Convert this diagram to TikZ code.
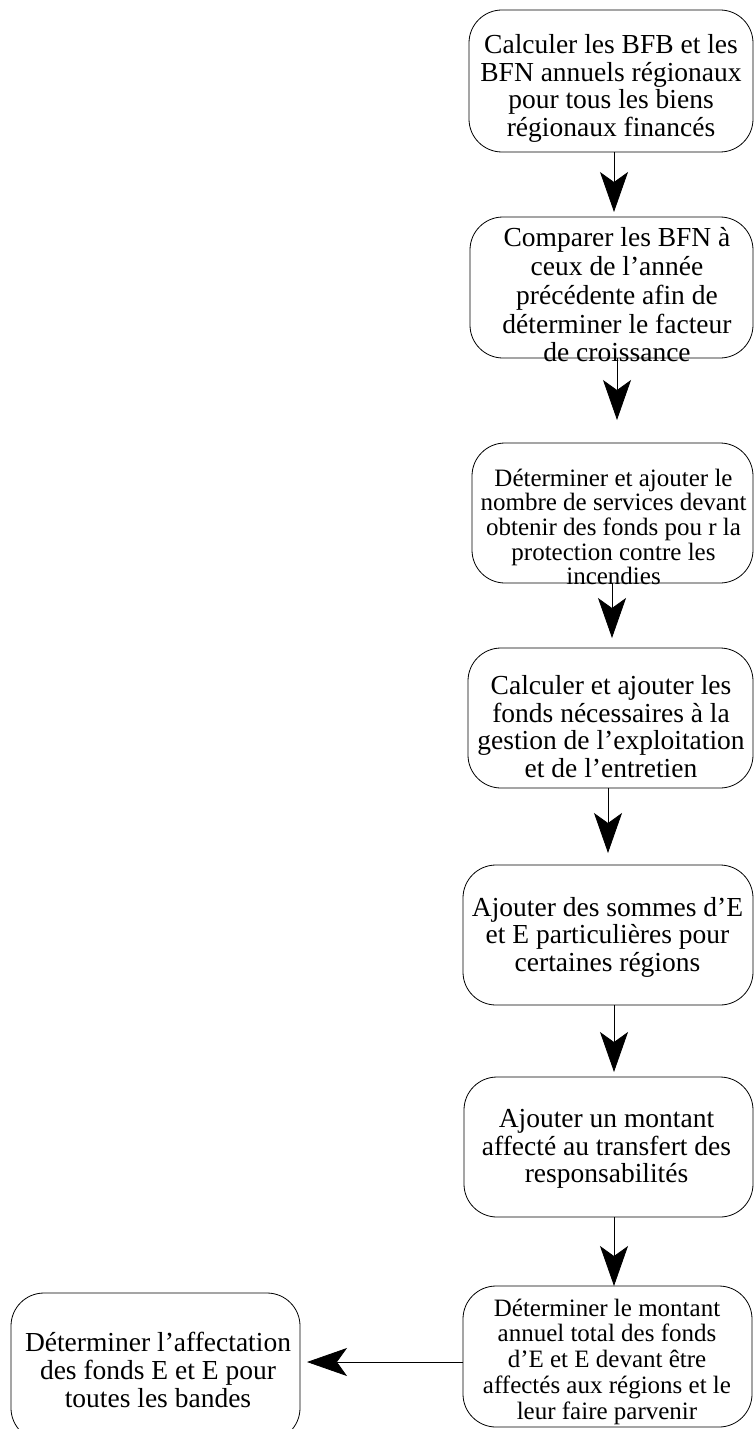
\documentclass[tikz,border=0pt]{standalone}
\usepackage{fontspec}
\setmainfont{Liberation Serif}
\usetikzlibrary{arrows.meta}
\begin{document}
\begin{tikzpicture}[x=1bp,y=-1bp,
  box/.style={draw, line width=0.8bp, rounded corners=33bp, inner sep=0pt, outer sep=0pt},
  txt/.style={align=center, inner sep=0pt, font=\fontsize{27.5bp}{27.5bp}\selectfont},
  arr/.style={line width=0.8bp, -{Stealth[length=40bp,width=28bp,inset=10bp]}}]
\useasboundingbox (0,0) rectangle (754,1429);
\clip (0,0) rectangle (754,1429);

% process boxes
\node[box, minimum width=284bp, minimum height=142bp] (b1) at (611,81) {};
\node[box, minimum width=283bp, minimum height=141bp] (b2) at (611.5,287.5) {};
\node[box, minimum width=281bp, minimum height=140bp] (b3) at (612.5,513) {};
\node[box, minimum width=285bp, minimum height=140bp] (b4) at (610.5,718) {};
\node[box, minimum width=290bp, minimum height=140bp] (b5) at (608,935) {};
\node[box, minimum width=289bp, minimum height=140bp] (b6) at (608.5,1147) {};
\node[box, minimum width=289bp, minimum height=141bp] (b7) at (607.5,1356.5) {};
\node[box, minimum width=289bp, minimum height=148bp] (b8) at (155.5,1367) {};

% box texts
\node[txt] (t1) at (611,88.5) {Calculer les BFB et les\\BFN annuels régionaux\\pour tous les biens\\régionaux financés};
\node[txt, font=\fontsize{27.5bp}{28.75bp}\selectfont] (t2) at (617,295) {Comparer les BFN à\\ceux de l’année\\précédente afin de\\déterminer le facteur\\de croissance};
\node[txt, font=\fontsize{25bp}{24.6bp}\selectfont] (t3) at (613.5,527) {Déterminer et ajouter le\\nombre de services devant\\obtenir des fonds pou r la\\protection contre les\\incendies};
\node[txt] (t4) at (611,726.5) {Calculer et ajouter les\\fonds nécessaires à la\\gestion de l’exploitation\\et de l’entretien};
\node[txt] (t5) at (607.5,937) {Ajouter des sommes d’E\\et E particulières pour\\certaines régions};
\node[txt] (t6) at (606.5,1149) {Ajouter un montant\\affecté au transfert des\\responsabilités};
\node[txt, font=\fontsize{25bp}{25.75bp}\selectfont] (t7) at (607,1361.5) {Déterminer le montant\\annuel total des fonds\\d’E et E devant être\\affectés aux régions et le\\leur faire parvenir};
\node[txt, font=\fontsize{27.5bp}{28.3bp}\selectfont] (t8) at (158,1370) {Déterminer l’affectation\\des fonds E et E pour\\toutes les bandes};

% connector guide lines
\coordinate (c1) at (614,0);
\coordinate (c2) at (617,0);
\coordinate (c3) at (612,0);
\coordinate (c4) at (608,0);
\coordinate (c5) at (614,0);
\coordinate (c6) at (614,0);
\coordinate (c7) at (0,1362);

% connectors
\draw[arr, shorten >=5bp]  (b1.south -| c1) -- (b2.north -| c1);
\draw[arr, shorten >=23bp] (b2.south -| c2) -- (b3.north -| c2);
\draw[arr, shorten >=10bp] (b3.south -| c3) -- (b4.north -| c3);
\draw[arr, shorten >=12bp] (b4.south -| c4) -- (b5.north -| c4);
\draw[arr, shorten >=5bp]  (b5.south -| c5) -- (b6.north -| c5);
\draw[arr]                 (b6.south -| c6) -- (b7.north -| c6);
\draw[arr, shorten >=7bp]  (b7.west |- c7) -- (b8.east |- c7);
\end{tikzpicture}
\end{document}
